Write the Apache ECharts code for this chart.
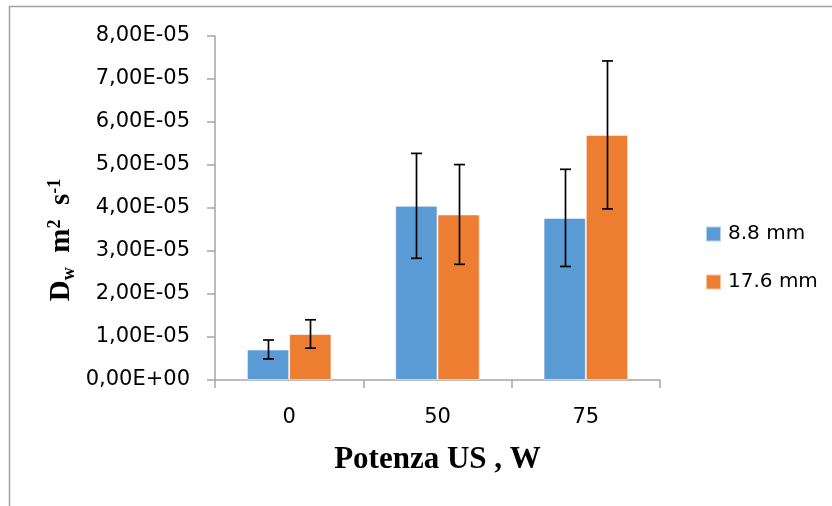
<!DOCTYPE html>
<html>
<head>
<meta charset="utf-8">
<script src="https://cdn.jsdelivr.net/npm/echarts@6/dist/echarts.min.js"></script>
<style>
  html, body { margin: 0; padding: 0; background: #fff; }
  #chart { width: 832px; height: 506px; }
</style>
</head>
<body>
<div id="chart"></div>
<script>
// Ultrasound power levels (W)
const categories = ['0', '50', '75'];
// Effective diffusivity D_w (m² s⁻¹) per sample thickness
const series88 = [7.1e-6, 4.05e-5, 3.77e-5];
const series176 = [1.07e-5, 3.85e-5, 5.70e-5];
// Standard deviations (symmetric error bars)
const err88 = [2.2e-6, 1.22e-5, 1.13e-5];
const err176 = [3.3e-6, 1.16e-5, 1.72e-5];
// Y axis tick labels, from 0 upward
const yTickLabels = ['0,00E+00', '1,00E-05', '2,00E-05', '3,00E-05', '4,00E-05',
                     '5,00E-05', '6,00E-05', '7,00E-05', '8,00E-05'];
const seriesNames = ['8.8 mm', '17.6 mm'];

const BLUE = '#5b9bd5';
const ORANGE = '#ed7d31';
const AXIS = '#a6a6a6';
const CAT_GAP = 0.43;
const TICK_FONT = 'DejaVu Sans';
const TITLE_FONT = '"Liberation Serif", "Times New Roman", serif';

const chart = echarts.init(document.getElementById('chart'));

// Error bar drawer: offset each whisker to the centre of its bar in the group
function errorBars(seriesIdx, values, errs) {
  return {
    type: 'custom',
    z: 5,
    silent: true,
    data: values.map((v, i) => [i, v, errs[i]]),
    encode: { x: 0, y: 1 },
    renderItem: function (params, api) {
      const i = api.value(0);
      const v = api.value(1);
      const e = api.value(2);
      const band = api.size([1, 0])[0];
      const barW = band * (1 - CAT_GAP) / 2;
      const off = (seriesIdx === 0 ? -0.5 : 0.5) * barW;
      const hi = api.coord([i, v + e]);
      const lo = api.coord([i, v - e]);
      const x = Math.round(hi[0] + off) + 0.5;
      const cap = 5.5;
      const style = { stroke: '#000', lineWidth: 1.7 };
      return {
        type: 'group',
        children: [
          { type: 'line', shape: { x1: x, y1: hi[1], x2: x, y2: lo[1] }, style },
          { type: 'line', shape: { x1: x - cap, y1: hi[1], x2: x + cap, y2: hi[1] }, style },
          { type: 'line', shape: { x1: x - cap, y1: lo[1], x2: x + cap, y2: lo[1] }, style }
        ]
      };
    }
  };
}

const titleBold = { fontFamily: TITLE_FONT, fontWeight: 'bold', color: '#000' };

chart.setOption({
  animation: false,
  backgroundColor: '#fff',
  graphic: [
    {
      type: 'rect',
      shape: { x: 9.5, y: 6.5, width: 900, height: 600 },
      style: { fill: 'none', stroke: '#a0a0a0', lineWidth: 1.5 },
      silent: true
    },
    {
      // Rotated y axis title with subscript and superscripts
      type: 'text',
      x: 62,
      y: 240,
      rotation: Math.PI / 2,
      silent: true,
      style: {
        text: '{b|D}{sub|w}{b|  m}{sup|2}{b|  s}{sup|-1}',
        align: 'center',
        verticalAlign: 'middle',
        rich: {
          b: Object.assign({ fontSize: 29, lineHeight: 38, verticalAlign: 'middle' }, titleBold),
          sub: Object.assign({ fontSize: 18, lineHeight: 38, verticalAlign: 'bottom', padding: [0, 0, 3, 0] }, titleBold),
          sup: Object.assign({ fontSize: 18, lineHeight: 38, verticalAlign: 'top', padding: [3, 0, 0, 0] }, titleBold)
        }
      }
    }
  ],
  grid: { left: 215, right: 172, top: 36, bottom: 126, containLabel: false },
  legend: {
    orient: 'vertical',
    left: 700,
    top: 219,
    itemWidth: 15,
    itemHeight: 15,
    itemGap: 28,
    icon: 'rect',
    data: seriesNames,
    textStyle: { fontFamily: TICK_FONT, fontSize: 20, color: '#000', lineHeight: 20, padding: [0, 0, 0, 2] }
  },
  xAxis: {
    type: 'category',
    data: categories,
    boundaryGap: true,
    axisLine: { lineStyle: { color: AXIS, width: 1.5 } },
    axisTick: { show: true, length: 8, lineStyle: { color: AXIS, width: 1.5 } },
    axisLabel: { fontFamily: TICK_FONT, fontSize: 21, color: '#000', margin: 27 },
    name: 'Potenza US , W',
    nameLocation: 'middle',
    nameGap: 64,
    nameTextStyle: { fontFamily: TITLE_FONT, fontWeight: 'bold', fontSize: 31, color: '#000' }
  },
  yAxis: {
    type: 'value',
    min: 0,
    max: 8e-5,
    interval: 1e-5,
    splitLine: { show: false },
    axisLine: { show: true, lineStyle: { color: AXIS, width: 1.5 } },
    axisTick: { show: true, length: 8, lineStyle: { color: AXIS, width: 1.5 } },
    axisLabel: {
      fontFamily: TICK_FONT, fontSize: 21, color: '#000', margin: 25,
      formatter: function (value, index) { return yTickLabels[index]; }
    }
  },
  series: [
    {
      name: seriesNames[0],
      type: 'bar',
      data: series88,
      barGap: '0%',
      barCategoryGap: (CAT_GAP * 100) + '%',
      itemStyle: { color: BLUE, borderColor: 'rgba(255,255,255,0.55)', borderWidth: 1 }
    },
    {
      name: seriesNames[1],
      type: 'bar',
      data: series176,
      barGap: '0%',
      barCategoryGap: (CAT_GAP * 100) + '%',
      itemStyle: { color: ORANGE, borderColor: 'rgba(255,255,255,0.55)', borderWidth: 1 }
    },
    errorBars(0, series88, err88),
    errorBars(1, series176, err176)
  ]
});
</script>
</body>
</html>
